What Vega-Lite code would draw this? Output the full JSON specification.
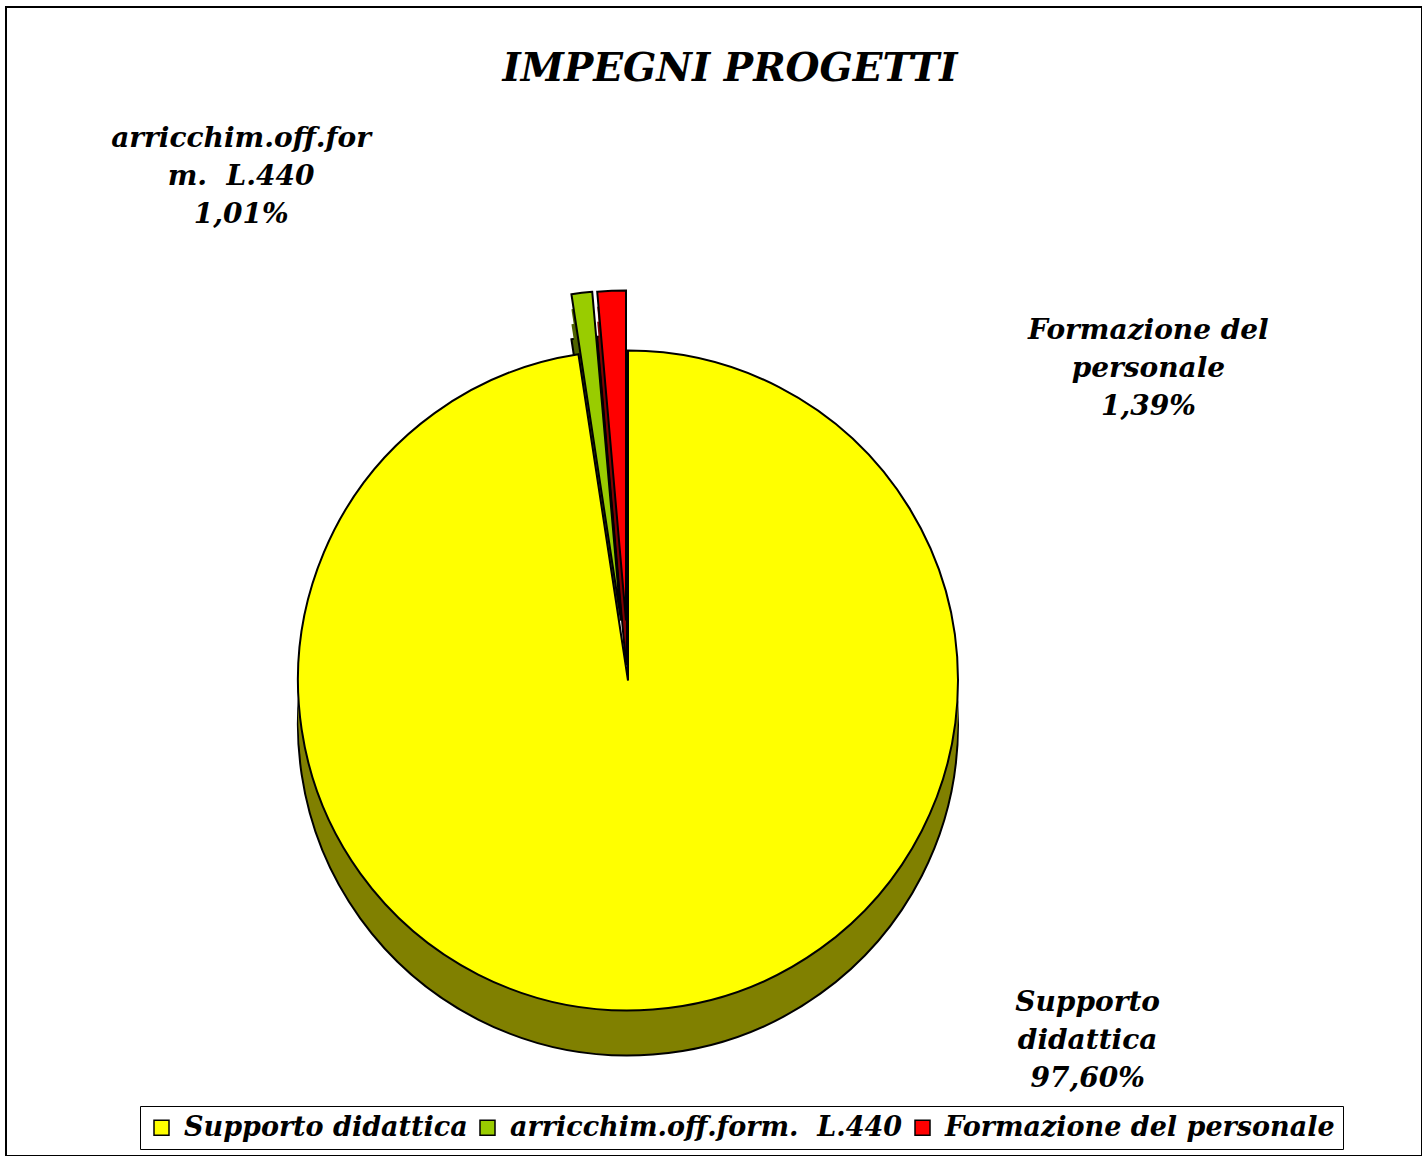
{
  "$schema": "https://vega.github.io/schema/vega-lite/v6.json",
  "width": 1416,
  "height": 1149,
  "autosize": {"type": "none"},
  "padding": {"left": 6, "top": 7, "right": 0, "bottom": 0},
  "background": "white",
  "view": {"stroke": "black", "strokeWidth": 2},
  "title": {"text": "IMPEGNI PROGETTI", "font": "DejaVu Serif", "fontSize": 39, "fontStyle": "italic", "fontWeight": "bold", "color": "black", "anchor": "middle", "offset": -82, "dx": 16},
  "config": {"view": {"stroke": "black", "strokeWidth": 2}},
  "data": {
    "values": [
      {"categoria": "Supporto didattica", "valore": 97.60, "etichetta": "Supporto\ndidattica\n97,60%"},
      {"categoria": "arricchim.off.form.\u00a0 L.440", "valore": 1.01, "etichetta": "arricchim.off.for\nm.\u00a0 L.440\n1,01%"},
      {"categoria": "Formazione del personale", "valore": 1.39, "etichetta": "Formazione del\npersonale\n1,39%"}
    ]
  },
  "transform": [
    {"stack": "valore", "groupby": [], "as": ["v0", "v1"]},
    {"calculate": "(datum.v0 + datum.v1) / 2", "as": "mid"}
  ],
  "layer": [
    {
      "transform": [{"filter": {"field": "categoria", "equal": "arricchim.off.form.\u00a0 L.440"}}],
      "mark": {"type": "arc", "radius": 330, "color": "#4F6300", "stroke": "black", "strokeWidth": 2, "xOffset": -93, "yOffset": 84},
      "encoding": {"theta": {"field": "v0", "type": "quantitative", "scale": {"domain": [0, 100], "range": [0, 6.283185307179586]}}, "theta2": {"field": "v1"}}
    },
    {
      "transform": [{"filter": {"field": "categoria", "equal": "arricchim.off.form.\u00a0 L.440"}}],
      "mark": {"type": "arc", "radius": 330, "color": "#4F6300", "xOffset": -93, "yOffset": 69},
      "encoding": {"theta": {"field": "v0", "type": "quantitative"}, "theta2": {"field": "v1"}}
    },
    {
      "transform": [{"filter": {"field": "categoria", "equal": "arricchim.off.form.\u00a0 L.440"}}],
      "mark": {"type": "arc", "radius": 330, "color": "#4F6300", "xOffset": -93, "yOffset": 54},
      "encoding": {"theta": {"field": "v0", "type": "quantitative"}, "theta2": {"field": "v1"}}
    },
    {
      "transform": [{"filter": {"field": "categoria", "equal": "arricchim.off.form.\u00a0 L.440"}}],
      "mark": {"type": "arc", "radius": 330, "stroke": "black", "strokeWidth": 2, "opacity": 1, "xOffset": -93, "yOffset": 39},
      "encoding": {
        "theta": {"field": "v0", "type": "quantitative"}, "theta2": {"field": "v1"},
        "color": {"field": "categoria", "type": "nominal", "scale": {"domain": ["Supporto didattica", "arricchim.off.form.\u00a0 L.440", "Formazione del personale"], "range": ["#FFFF00", "#99CC00", "#FF0000"]},
          "legend": {"title": null, "orient": "none", "legendX": 134, "legendY": 1099, "direction": "horizontal", "strokeColor": "black", "padding": 8, "symbolType": "square", "symbolSize": 225, "symbolStrokeColor": "black", "symbolStrokeWidth": 1.5, "labelFont": "DejaVu Serif", "labelFontSize": 27, "labelFontStyle": "italic", "labelFontWeight": "bold", "labelColor": "black", "labelOffset": 9, "columnPadding": 6, "labelLimit": 0}}
      }
    },
    {
      "transform": [{"filter": {"field": "categoria", "equal": "Formazione del personale"}}],
      "mark": {"type": "arc", "radius": 330, "color": "#800000", "stroke": "black", "strokeWidth": 2, "xOffset": -88, "yOffset": 84},
      "encoding": {"theta": {"field": "v0", "type": "quantitative"}, "theta2": {"field": "v1"}}
    },
    {
      "transform": [{"filter": {"field": "categoria", "equal": "Formazione del personale"}}],
      "mark": {"type": "arc", "radius": 330, "color": "#800000", "xOffset": -88, "yOffset": 69},
      "encoding": {"theta": {"field": "v0", "type": "quantitative"}, "theta2": {"field": "v1"}}
    },
    {
      "transform": [{"filter": {"field": "categoria", "equal": "Formazione del personale"}}],
      "mark": {"type": "arc", "radius": 330, "color": "#800000", "xOffset": -88, "yOffset": 54},
      "encoding": {"theta": {"field": "v0", "type": "quantitative"}, "theta2": {"field": "v1"}}
    },
    {
      "transform": [{"filter": {"field": "categoria", "equal": "Formazione del personale"}}],
      "mark": {"type": "arc", "radius": 330, "stroke": "black", "strokeWidth": 2, "opacity": 1, "xOffset": -88, "yOffset": 39},
      "encoding": {
        "theta": {"field": "v0", "type": "quantitative"}, "theta2": {"field": "v1"},
        "color": {"field": "categoria", "type": "nominal", "scale": {"domain": ["Supporto didattica", "arricchim.off.form.\u00a0 L.440", "Formazione del personale"], "range": ["#FFFF00", "#99CC00", "#FF0000"]},
          "legend": {"title": null, "orient": "none", "legendX": 134, "legendY": 1099, "direction": "horizontal", "strokeColor": "black", "padding": 8, "symbolType": "square", "symbolSize": 225, "symbolStrokeColor": "black", "symbolStrokeWidth": 1.5, "labelFont": "DejaVu Serif", "labelFontSize": 27, "labelFontStyle": "italic", "labelFontWeight": "bold", "labelColor": "black", "labelOffset": 9, "columnPadding": 6, "labelLimit": 0}}
      }
    },
    {
      "transform": [{"filter": {"field": "categoria", "equal": "Supporto didattica"}}],
      "mark": {"type": "arc", "radius": 330, "color": "#808000", "stroke": "black", "strokeWidth": 2, "xOffset": -86, "yOffset": 144},
      "encoding": {"theta": {"field": "v0", "type": "quantitative"}, "theta2": {"field": "v1"}}
    },
    {
      "transform": [{"filter": {"field": "categoria", "equal": "Supporto didattica"}}],
      "mark": {"type": "arc", "radius": 330, "color": "#808000", "xOffset": -86, "yOffset": 129},
      "encoding": {"theta": {"field": "v0", "type": "quantitative"}, "theta2": {"field": "v1"}}
    },
    {
      "transform": [{"filter": {"field": "categoria", "equal": "Supporto didattica"}}],
      "mark": {"type": "arc", "radius": 330, "color": "#808000", "xOffset": -86, "yOffset": 114},
      "encoding": {"theta": {"field": "v0", "type": "quantitative"}, "theta2": {"field": "v1"}}
    },
    {
      "transform": [{"filter": {"field": "categoria", "equal": "Supporto didattica"}}],
      "mark": {"type": "arc", "radius": 330, "stroke": "black", "strokeWidth": 2, "opacity": 1, "xOffset": -86, "yOffset": 99},
      "encoding": {
        "theta": {"field": "v0", "type": "quantitative"}, "theta2": {"field": "v1"},
        "color": {"field": "categoria", "type": "nominal", "scale": {"domain": ["Supporto didattica", "arricchim.off.form.\u00a0 L.440", "Formazione del personale"], "range": ["#FFFF00", "#99CC00", "#FF0000"]},
          "legend": {"title": null, "orient": "none", "legendX": 134, "legendY": 1099, "direction": "horizontal", "strokeColor": "black", "padding": 8, "symbolType": "square", "symbolSize": 225, "symbolStrokeColor": "black", "symbolStrokeWidth": 1.5, "labelFont": "DejaVu Serif", "labelFontSize": 27, "labelFontStyle": "italic", "labelFontWeight": "bold", "labelColor": "black", "labelOffset": 9, "columnPadding": 6, "labelLimit": 0}}
      }
    },
    {
      "transform": [{"filter": {"field": "categoria", "equal": "arricchim.off.form.\u00a0 L.440"}}],
      "mark": {"type": "text", "radius": 420, "xOffset": -86, "yOffset": 99, "dx": -337, "dy": -124, "align": "center", "baseline": "middle", "lineBreak": "\n", "lineHeight": 38, "font": "DejaVu Serif", "fontSize": 28, "fontStyle": "italic", "fontWeight": "bold", "color": "black"},
      "encoding": {"theta": {"field": "mid", "type": "quantitative"}, "text": {"field": "etichetta"}}
    },
    {
      "transform": [{"filter": {"field": "categoria", "equal": "Formazione del personale"}}],
      "mark": {"type": "text", "radius": 380, "xOffset": -86, "yOffset": 99, "dx": 537, "dy": 30, "align": "center", "baseline": "middle", "lineBreak": "\n", "lineHeight": 38, "font": "DejaVu Serif", "fontSize": 28, "fontStyle": "italic", "fontWeight": "bold", "color": "black"},
      "encoding": {"theta": {"field": "mid", "type": "quantitative"}, "text": {"field": "etichetta"}}
    },
    {
      "transform": [{"filter": {"field": "categoria", "equal": "Supporto didattica"}}],
      "mark": {"type": "text", "radius": 380, "xOffset": -86, "yOffset": 99, "dx": 431, "dy": -56, "align": "center", "baseline": "middle", "lineBreak": "\n", "lineHeight": 38, "font": "DejaVu Serif", "fontSize": 28, "fontStyle": "italic", "fontWeight": "bold", "color": "black"},
      "encoding": {"theta": {"field": "mid", "type": "quantitative"}, "text": {"field": "etichetta"}}
    }
  ]
}
